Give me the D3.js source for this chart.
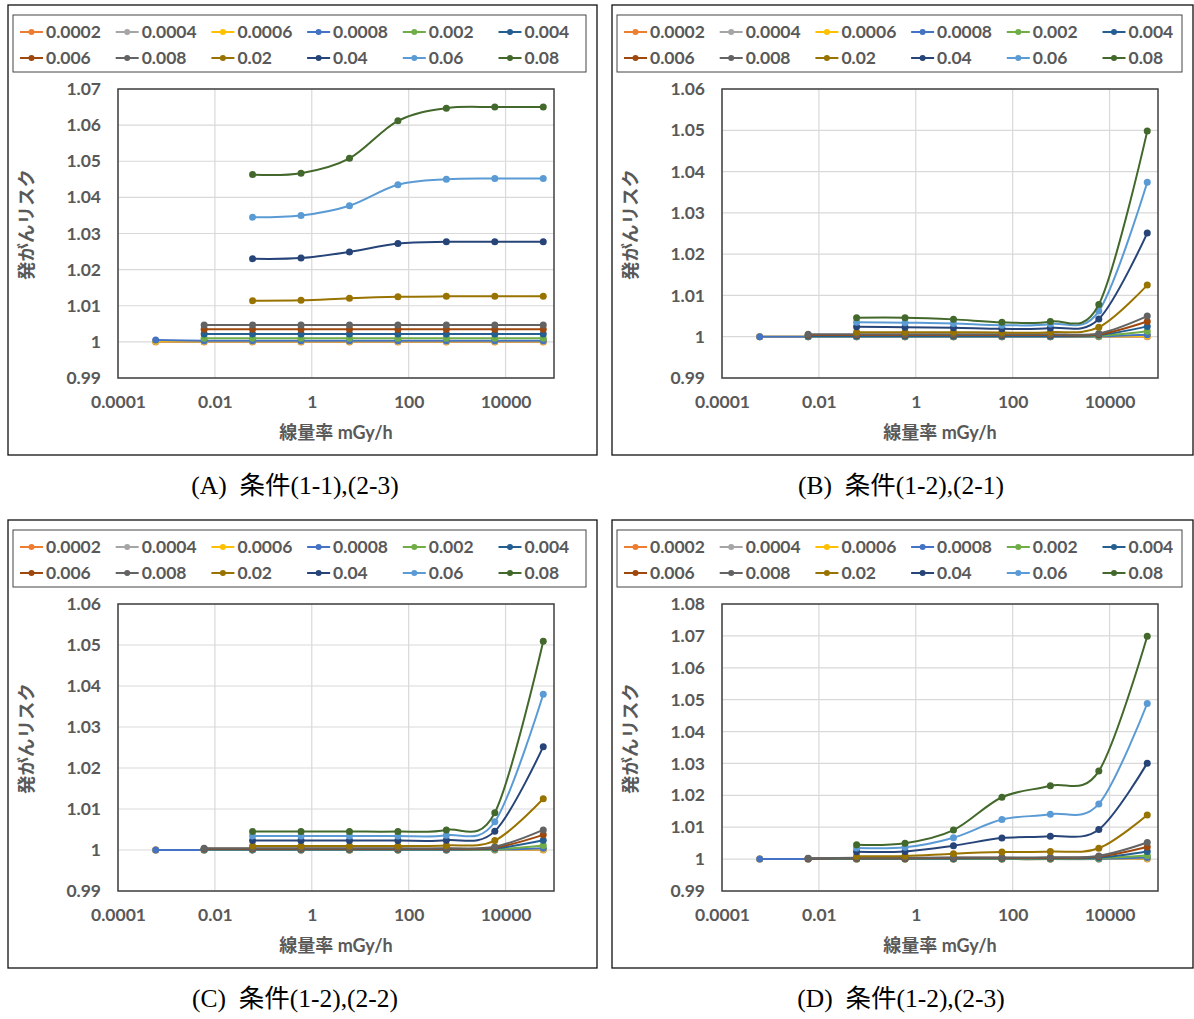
<!DOCTYPE html>
<html>
<head>
<meta charset="utf-8">
<script src="https://cdn.jsdelivr.net/npm/d3@7"></script>
<style>
  body { margin: 0; background: #fff; }
  text { font-family: Lato, 'Noto Sans CJK JP', sans-serif; }
</style>
</head>
<body>
<svg id="chart"></svg>
<script>
// dose rate (mGy/h) at each point
const xValues = [0.0006, 0.006, 0.06, 0.6, 6, 60, 600, 6000, 60000]
const xTicks = [0.0001, 0.01, 1, 100, 10000]

const seriesNames = ['0.0002', '0.0004', '0.0006', '0.0008', '0.002', '0.004',
  '0.006', '0.008', '0.02', '0.04', '0.06', '0.08']
const seriesColors = ['#ED7D31', '#A5A5A5', '#FFC000', '#4472C4', '#70AD47', '#255E91',
  '#9E480E', '#636363', '#997300', '#264478', '#5B9BD5', '#43682B']

// (A) 条件(1-1),(2-3)
const riskA = [
  [1.0000, 1.0000, 1.0000, 1.0000, 1.0000, 1.0000, 1.0000, 1.0000, 1.0000],
  [1.0001, 1.0001, 1.0001, 1.0001, 1.0001, 1.0001, 1.0001, 1.0001, 1.0001],
  [1.0002, 1.0002, 1.0002, 1.0002, 1.0002, 1.0002, 1.0002, 1.0002, 1.0002],
  [1.0005, 1.0003, 1.0003, 1.0003, 1.0003, 1.0003, 1.0003, 1.0003, 1.0003],
  [null, 1.0010, 1.0010, 1.0010, 1.0010, 1.0010, 1.0010, 1.0010, 1.0010],
  [null, 1.0022, 1.0022, 1.0022, 1.0022, 1.0022, 1.0022, 1.0022, 1.0022],
  [null, 1.0035, 1.0035, 1.0035, 1.0035, 1.0035, 1.0035, 1.0035, 1.0035],
  [null, 1.0047, 1.0047, 1.0047, 1.0047, 1.0047, 1.0047, 1.0047, 1.0047],
  [null, null, 1.0114, 1.0115, 1.0121, 1.0125, 1.0126, 1.0126, 1.0126],
  [null, null, 1.0230, 1.0232, 1.0249, 1.0272, 1.0277, 1.0277, 1.0277],
  [null, null, 1.0345, 1.0350, 1.0377, 1.0435, 1.0450, 1.0452, 1.0452],
  [null, null, 1.0463, 1.0467, 1.0508, 1.0612, 1.0647, 1.0650, 1.0650]
]

// (B) 条件(1-2),(2-1)
const riskB = [
  [1.0000, 1.0000, 1.0000, 1.0000, 1.0000, 1.0000, 1.0000, 1.0000, 1.0000],
  [1.0000, 1.0000, 1.0000, 1.0000, 1.0000, 1.0000, 1.0000, 1.0000, 1.0001],
  [1.0000, 1.0000, 1.0000, 1.0000, 1.0000, 1.0000, 1.0000, 1.0001, 1.0002],
  [1.0000, 1.0000, 1.0000, 1.0000, 1.0000, 1.0000, 1.0000, 1.0001, 1.0005],
  [null, 1.0001, 1.0001, 1.0001, 1.0001, 1.0001, 1.0001, 1.0002, 1.0013],
  [null, 1.0002, 1.0002, 1.0002, 1.0002, 1.0002, 1.0002, 1.0004, 1.0025],
  [null, 1.0004, 1.0004, 1.0004, 1.0004, 1.0004, 1.0004, 1.0006, 1.0037],
  [null, 1.0006, 1.0006, 1.0006, 1.0006, 1.0006, 1.0006, 1.0008, 1.0050],
  [null, null, 1.0011, 1.0011, 1.0011, 1.0010, 1.0011, 1.0023, 1.0125],
  [null, null, 1.0024, 1.0023, 1.0022, 1.0019, 1.0021, 1.0043, 1.0251],
  [null, null, 1.0035, 1.0034, 1.0032, 1.0028, 1.0031, 1.0062, 1.0374],
  [null, null, 1.0046, 1.0046, 1.0042, 1.0035, 1.0037, 1.0078, 1.0498]
]

// (C) 条件(1-2),(2-2)
const riskC = [
  [1.0000, 1.0000, 1.0000, 1.0000, 1.0000, 1.0000, 1.0000, 1.0000, 1.0000],
  [1.0000, 1.0000, 1.0000, 1.0000, 1.0000, 1.0000, 1.0000, 1.0000, 1.0001],
  [1.0000, 1.0000, 1.0000, 1.0000, 1.0000, 1.0000, 1.0000, 1.0001, 1.0002],
  [1.0000, 1.0000, 1.0000, 1.0000, 1.0000, 1.0000, 1.0000, 1.0001, 1.0004],
  [null, 1.0001, 1.0001, 1.0001, 1.0001, 1.0001, 1.0001, 1.0002, 1.0011],
  [null, 1.0002, 1.0002, 1.0002, 1.0002, 1.0002, 1.0002, 1.0004, 1.0024],
  [null, 1.0003, 1.0003, 1.0003, 1.0003, 1.0003, 1.0003, 1.0006, 1.0037],
  [null, 1.0004, 1.0004, 1.0004, 1.0004, 1.0004, 1.0004, 1.0008, 1.0049],
  [null, null, 1.0010, 1.0010, 1.0010, 1.0010, 1.0011, 1.0023, 1.0125],
  [null, null, 1.0023, 1.0023, 1.0023, 1.0023, 1.0024, 1.0046, 1.0252],
  [null, null, 1.0034, 1.0034, 1.0034, 1.0034, 1.0036, 1.0069, 1.0380],
  [null, null, 1.0045, 1.0045, 1.0045, 1.0045, 1.0049, 1.0091, 1.0509]
]

// (D) 条件(1-2),(2-3)
const riskD = [
  [1.0000, 1.0000, 1.0000, 1.0000, 1.0000, 1.0000, 1.0000, 1.0000, 1.0000],
  [1.0000, 1.0000, 1.0000, 1.0000, 1.0000, 1.0000, 1.0000, 1.0000, 1.0002],
  [1.0000, 1.0000, 1.0000, 1.0000, 1.0000, 1.0000, 1.0000, 1.0001, 1.0003],
  [1.0000, 1.0000, 1.0000, 1.0000, 1.0000, 1.0000, 1.0000, 1.0001, 1.0005],
  [null, 1.0001, 1.0001, 1.0001, 1.0001, 1.0001, 1.0001, 1.0003, 1.0011],
  [null, 1.0001, 1.0002, 1.0002, 1.0002, 1.0003, 1.0003, 1.0005, 1.0024],
  [null, 1.0002, 1.0003, 1.0003, 1.0004, 1.0004, 1.0004, 1.0008, 1.0038],
  [null, 1.0003, 1.0004, 1.0004, 1.0005, 1.0005, 1.0006, 1.0010, 1.0052],
  [null, null, 1.0009, 1.0010, 1.0017, 1.0022, 1.0024, 1.0034, 1.0138],
  [null, null, 1.0023, 1.0024, 1.0042, 1.0066, 1.0072, 1.0093, 1.0301],
  [null, null, 1.0035, 1.0037, 1.0067, 1.0124, 1.0141, 1.0173, 1.0488],
  [null, null, 1.0045, 1.0050, 1.0091, 1.0194, 1.0230, 1.0276, 1.0699]
]

const panels = [
  {data: riskA, caption: '(A)  条件(1-1),(2-3)', x: 8, y: 5, w: 589, h: 450, yMax: 1.07, capX: 295},
  {data: riskB, caption: '(B)  条件(1-2),(2-1)', x: 612, y: 5, w: 581, h: 450, yMax: 1.06, capX: 901},
  {data: riskC, caption: '(C)  条件(1-2),(2-2)', x: 8, y: 520, w: 589, h: 448, yMax: 1.06, capX: 295},
  {data: riskD, caption: '(D)  条件(1-2),(2-3)', x: 612, y: 520, w: 581, h: 448, yMax: 1.08, capX: 901}
]

const textColor = '#595959'
const numFont = "Lato, 'Noto Sans CJK JP', sans-serif"

const svg = d3.select('#chart')
  .attr('width', 1194)
  .attr('height', 1019)

svg.append('rect').attr('width', 1194).attr('height', 1019).attr('fill', '#fff')

panels.forEach(p => drawPanel(p))

function drawPanel(p) {
  const g = svg.append('g')

  // outer frame
  g.append('rect')
    .attr('x', p.x).attr('y', p.y)
    .attr('width', p.w).attr('height', p.h)
    .attr('fill', 'none').attr('stroke', '#111').attr('stroke-width', 1.3)

  // legend
  g.append('rect')
    .attr('x', p.x + 5).attr('y', p.y + 10)
    .attr('width', p.w - 16).attr('height', 57)
    .attr('fill', 'none').attr('stroke', '#444').attr('stroke-width', 1)

  const item = g.selectAll('.legend-item')
    .data(seriesNames)
    .join('g')
    .attr('class', 'legend-item')
    .attr('transform', (d, i) => 'translate(' + (p.x + 12 + (i % 6) * 95.7) + ',' + (p.y + 27 + Math.floor(i / 6) * 26) + ')')

  item.append('line')
    .attr('x1', 0).attr('x2', 23)
    .attr('stroke', (d, i) => seriesColors[i]).attr('stroke-width', 2)
  item.append('circle')
    .attr('cx', 11.5).attr('r', 3)
    .attr('fill', (d, i) => seriesColors[i])
  item.append('text')
    .attr('x', 26).attr('dy', '0.36em')
    .attr('font-size', 17.5).attr('font-weight', 'bold')
    .attr('fill', textColor)
    .text(d => d)

  // plot area
  const left = p.x + 110
  const right = left + 436
  const top = p.y + 84
  const bottom = p.y + p.h - 77

  const x = d3.scaleLog().domain([0.0001, 100000]).range([left, right])
  const y = d3.scaleLinear().domain([0.99, p.yMax]).range([bottom, top])
  const yTicks = y.ticks(Math.round((p.yMax - 0.99) * 100))

  // gridlines
  g.append('g')
    .selectAll('line')
    .data(yTicks)
    .join('line')
    .attr('x1', left).attr('x2', right)
    .attr('y1', d => y(d)).attr('y2', d => y(d))
    .attr('stroke', '#d9d9d9').attr('stroke-width', 1.2)

  g.append('g')
    .selectAll('line')
    .data(xTicks)
    .join('line')
    .attr('x1', d => x(d)).attr('x2', d => x(d))
    .attr('y1', top).attr('y2', bottom)
    .attr('stroke', '#d9d9d9').attr('stroke-width', 1.2)

  g.append('rect')
    .attr('x', left).attr('y', top)
    .attr('width', right - left).attr('height', bottom - top)
    .attr('fill', 'none').attr('stroke', '#404040').attr('stroke-width', 1.5)

  // y axis
  const yAxis = g.append('g')
    .attr('transform', 'translate(' + left + ',0)')
    .call(d3.axisLeft(y).tickValues(yTicks).tickSize(0).tickPadding(17).tickFormat(d => String(+d.toFixed(2))))
  yAxis.select('.domain').remove()
  yAxis.selectAll('text')
    .attr('font-family', numFont)
    .attr('font-size', 17.5).attr('font-weight', 'bold').attr('fill', textColor)

  // x axis
  const xAxis = g.append('g')
    .attr('transform', 'translate(0,' + bottom + ')')
    .call(d3.axisBottom(x).tickValues(xTicks).tickSize(0).tickPadding(18).tickFormat(d => String(d)))
  xAxis.select('.domain').remove()
  xAxis.selectAll('text')
    .attr('font-family', numFont)
    .attr('font-size', 17.5).attr('font-weight', 'bold').attr('fill', textColor)

  // axis titles
  g.append('text')
    .attr('transform', 'translate(' + (p.x + 19) + ',' + ((top + bottom) / 2 - 9) + ') rotate(-90)')
    .attr('text-anchor', 'middle').attr('dy', '0.35em')
    .attr('font-size', 18.5).attr('font-weight', 'bold').attr('fill', textColor)
    .text('発がんリスク')

  g.append('text')
    .attr('x', (left + right) / 2).attr('y', bottom + 55)
    .attr('text-anchor', 'middle').attr('dy', '0.35em')
    .attr('font-size', 18).attr('font-weight', 'bold').attr('fill', textColor)
    .text('線量率 mGy/h')

  // series
  const line = d3.line()
    .defined(d => d[1] != null)
    .x(d => x(d[0]))
    .y(d => y(d[1]))
    .curve(d3.curveCatmullRom.alpha(0))

  p.data.forEach((vals, i) => {
    const pts = xValues.map((xv, j) => [xv, vals[j]])
    g.append('path')
      .datum(pts)
      .attr('fill', 'none')
      .attr('stroke', seriesColors[i])
      .attr('stroke-width', 2)
      .attr('d', line)
    g.append('g')
      .selectAll('circle')
      .data(pts.filter(d => d[1] != null))
      .join('circle')
      .attr('cx', d => x(d[0]))
      .attr('cy', d => y(d[1]))
      .attr('r', 3.5)
      .attr('fill', seriesColors[i])
  })

  // caption under panel
  svg.append('text')
    .attr('x', p.capX).attr('y', p.y + p.h + 39)
    .attr('text-anchor', 'middle')
    .style('font-family', "'Liberation Serif', 'Noto Sans CJK JP', serif")
    .style('white-space', 'pre')
    .attr('font-size', 25.5).attr('fill', '#000')
    .text(p.caption)
}
</script>
</body>
</html>
